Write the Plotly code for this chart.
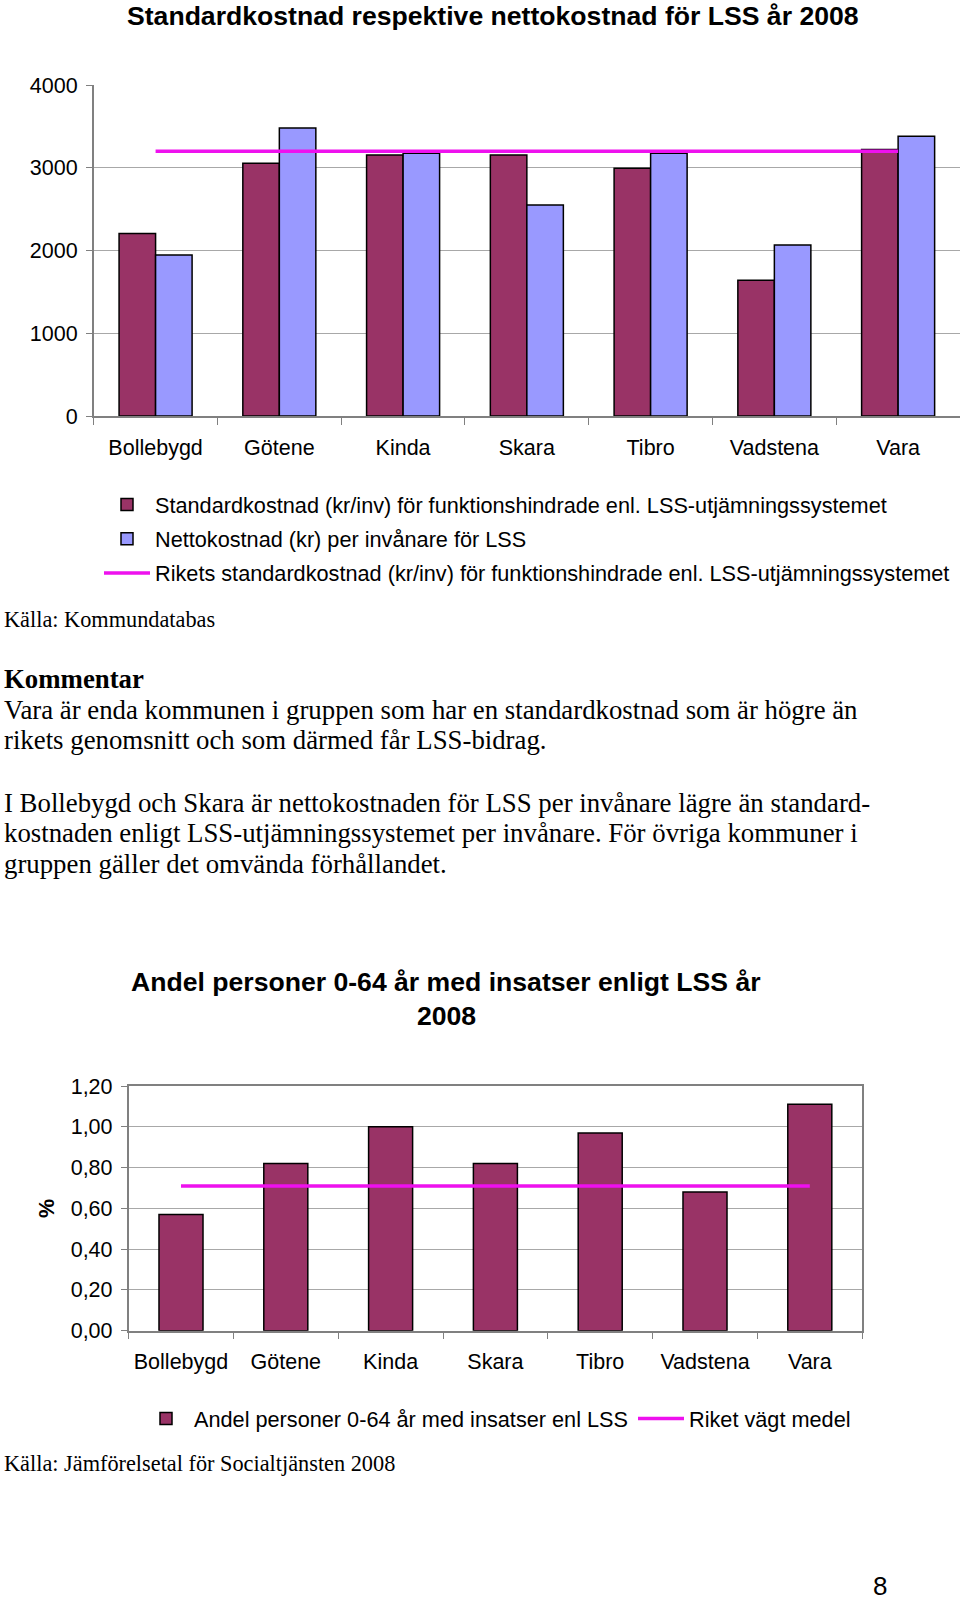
import plotly.graph_objects as go

W, H = 960, 1603

# ---- data ----
kommuner = ["Bollebygd", "Götene", "Kinda", "Skara", "Tibro", "Vadstena", "Vara"]
standardkostnad = [2205, 3055, 3155, 3155, 2995, 1640, 3220]
nettokostnad = [1945, 3480, 3175, 2550, 3175, 2065, 3380]
riket_standard = [3200] * 7

andel_lss = [0.57, 0.82, 1.00, 0.82, 0.97, 0.68, 1.11]
riket_medel = [0.71] * 7

y1_ticks = [0, 1000, 2000, 3000, 4000]
y2_ticks = [0.0, 0.2, 0.4, 0.6, 0.8, 1.0, 1.2]
y2_labels = ["0,00", "0,20", "0,40", "0,60", "0,80", "1,00", "1,20"]
boundaries = [0.5, 1.5, 2.5, 3.5, 4.5, 5.5]

MAROON = "#993366"
BLUE = "#9999FF"
MAGENTA = "#EE11EE"
GRID = "#A8A8A8"
AXIS = "#808080"
SANS = "Liberation Sans, Arial, sans-serif"
SERIF = "Liberation Serif, Times New Roman, serif"
FS = 21.5
LFS = 21.7


def px(x):
    return x / W


def py(y):
    return 1 - y / H


fig = go.Figure()

fig.add_trace(go.Bar(x=kommuner, y=standardkostnad, name="Standardkostnad (kr/inv) för funktionshindrade enl. LSS-utjämningssystemet",
                     marker=dict(color=MAROON, line=dict(color="black", width=1.5)), xaxis="x", yaxis="y",
                     legend="legend", legendgroup="a"))
fig.add_trace(go.Bar(x=kommuner, y=nettokostnad, name="Nettokostnad (kr) per invånare för LSS",
                     marker=dict(color=BLUE, line=dict(color="black", width=1.5)), xaxis="x", yaxis="y",
                     legend="legend", legendgroup="b"))
fig.add_trace(go.Scatter(x=kommuner, y=riket_standard, mode="lines", name="Rikets standardkostnad (kr/inv) för funktionshindrade enl. LSS-utjämningssystemet",
                         line=dict(color=MAGENTA, width=3.5), xaxis="x", yaxis="y", legend="legend", legendgroup="c"))

fig.add_trace(go.Bar(x=kommuner, y=andel_lss, name="Andel personer 0-64 år med insatser enl LSS", width=0.42,
                     marker=dict(color=MAROON, line=dict(color="black", width=1.5)), xaxis="x2", yaxis="y2",
                     legend="legend2"))
fig.add_trace(go.Scatter(x=kommuner, y=riket_medel, mode="lines", name="Riket vägt medel",
                         line=dict(color=MAGENTA, width=3.5), xaxis="x2", yaxis="y2", legend="legend2"))

axis_font = dict(family=SANS, size=FS, color="black")
dom_x1 = [px(93.7), px(960)]
dom_y1 = [py(416), py(85)]
dom_x2 = [px(128.6), px(862.2)]
dom_y2 = [py(1330.7), py(1086)]

fig.update_layout(
    width=W, height=H, margin=dict(l=0, r=0, t=0, b=0, autoexpand=False),
    paper_bgcolor="white", plot_bgcolor="white",
    barmode="group", bargap=0.41, bargroupgap=0.0,
    font=dict(family=SANS, size=FS, color="black"),
    xaxis=dict(domain=dom_x1, anchor="y", showgrid=False, showline=True, linecolor=AXIS,
               linewidth=1.5, ticks="outside", tickson="boundaries", ticklen=7, tickcolor=AXIS,
               tickfont=axis_font, ticklabelstandoff=11),
    xaxis3=dict(domain=dom_x1, anchor="y", overlaying="x", type="linear", range=[-0.5, 6.5],
                tickvals=boundaries, ticks="inside", ticklen=7, tickcolor=AXIS, showticklabels=False,
                showgrid=False, showline=False, zeroline=False),
    yaxis=dict(domain=dom_y1, anchor="x", range=[0, 4000], tickvals=y1_ticks, showgrid=True,
               gridcolor=GRID, gridwidth=1, showline=True, linecolor=AXIS, linewidth=1.5,
               ticks="outside", ticklen=6, tickcolor=AXIS, tickfont=axis_font, ticklabelstandoff=4,
               zeroline=False),
    xaxis2=dict(domain=dom_x2, anchor="y2", showgrid=False, showline=True, linecolor=AXIS,
                linewidth=1.5, ticks="outside", tickson="boundaries", ticklen=7, tickcolor=AXIS,
                tickfont=axis_font, ticklabelstandoff=11, mirror=True),
    xaxis4=dict(domain=dom_x2, anchor="y2", overlaying="x2", type="linear", range=[-0.5, 6.5],
                tickvals=boundaries, ticks="inside", ticklen=7, tickcolor=AXIS, showticklabels=False,
                showgrid=False, showline=False, zeroline=False),
    yaxis2=dict(domain=dom_y2, anchor="x2", range=[0, 1.2], tickvals=y2_ticks, ticktext=y2_labels,
                showgrid=True, gridcolor=GRID, gridwidth=1, showline=True, linecolor=AXIS, linewidth=1.5,
                mirror=True, ticks="outside", ticklen=6, tickcolor=AXIS, tickfont=axis_font,
                ticklabelstandoff=4, zeroline=False,
                title=dict(text="<b>%</b>", font=dict(family=SANS, size=FS), standoff=10)),
    legend=dict(x=px(99), y=py(484), xanchor="left", yanchor="top", orientation="v",
                font=dict(family=SANS, size=LFS), bgcolor="rgba(0,0,0,0)", tracegroupgap=3, itemwidth=46,
                traceorder="grouped"),
    legend2=dict(x=px(138), y=py(1398), xanchor="left", yanchor="top", orientation="h",
                 font=dict(family=SANS, size=LFS), bgcolor="rgba(0,0,0,0)", itemwidth=46),
    showlegend=True,
)

TFS = 26.6
BFS = 26.8
annotations = [
    dict(text="<b>Standardkostnad respektive nettokostnad för LSS år 2008</b>", x=px(493), y=1,
         yanchor="top", borderpad=0, font=dict(family=SANS, size=TFS)),
    dict(text="<b>Andel personer 0-64 år med insatser enligt LSS år</b>", x=px(446), y=py(981.5),
         font=dict(family=SANS, size=TFS)),
    dict(text="<b>2008</b>", x=px(446), y=py(1016), font=dict(family=SANS, size=TFS)),
    dict(text="Källa: Kommundatabas", x=px(2), y=py(620), xanchor="left", font=dict(family=SERIF, size=22.3)),
    dict(text="<b>Kommentar</b>", x=px(2), y=py(679), xanchor="left", font=dict(family=SERIF, size=BFS)),
    dict(text="Vara är enda kommunen i gruppen som har en standardkostnad som är högre än", x=px(2), y=py(709.5),
         xanchor="left", font=dict(family=SERIF, size=BFS)),
    dict(text="rikets genomsnitt och som därmed får LSS-bidrag.", x=px(2), y=py(740), xanchor="left",
         font=dict(family=SERIF, size=BFS)),
    dict(text="I Bollebygd och Skara är nettokostnaden för LSS per invånare lägre än standard-", x=px(2), y=py(802.5),
         xanchor="left", font=dict(family=SERIF, size=BFS)),
    dict(text="kostnaden enligt LSS-utjämningssystemet per invånare. För övriga kommuner i", x=px(2), y=py(833),
         xanchor="left", font=dict(family=SERIF, size=BFS)),
    dict(text="gruppen gäller det omvända förhållandet.", x=px(2), y=py(864), xanchor="left",
         font=dict(family=SERIF, size=BFS)),
    dict(text="Källa: Jämförelsetal för Socialtjänsten 2008", x=px(2), y=py(1463), xanchor="left",
         font=dict(family=SERIF, size=22.3)),
    dict(text="8", x=px(880), y=0, yanchor="bottom", font=dict(family=SANS, size=26)),
]
for a in annotations:
    a.update(xref="paper", yref="paper", showarrow=False, yanchor=a.get("yanchor", "middle"),
             xanchor=a.get("xanchor", "center"))
fig.update_layout(annotations=annotations)

fig.write_html("out.html", config={"displayModeBar": False},
               post_script="document.body.style.margin='0px';document.body.style.padding='0px';")
